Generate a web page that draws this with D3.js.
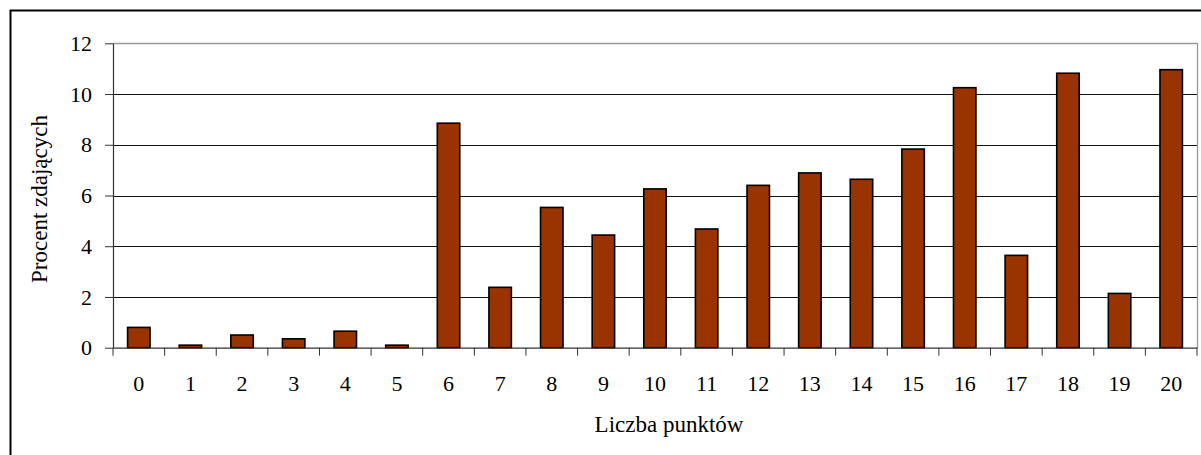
<!DOCTYPE html>
<html><head><meta charset="utf-8">
<script src="https://cdn.jsdelivr.net/npm/d3@7"></script>
<style>body{margin:0;background:#fff}svg{display:block}</style>
</head><body>
<script>
const categories = ["0","1","2","3","4","5","6","7","8","9","10","11","12","13","14","15","16","17","18","19","20"];
const values = [0.8,0.1,0.5,0.35,0.65,0.1,8.85,2.38,5.53,4.44,6.26,4.68,6.4,6.89,6.64,7.83,10.25,3.64,10.82,2.14,10.96];
const yTicks = [0,2,4,6,8,10,12];
const yTitle = "Procent zdających";
const xTitle = "Liczba punktów";

(function(){
const W = 1201, H = 455;
const mLeft = 113, mRight = 1197, mTop = 43.3, mBottom = 347.7;
const svg = d3.select("body").append("svg").attr("width", W).attr("height", H);
const font = "'Liberation Serif','Times New Roman',serif";

// outer border
svg.append("rect").attr("x",10.5).attr("y",10.5).attr("width",1200).attr("height",460)
  .attr("fill","none").attr("stroke","#000").attr("stroke-width",2);

const x = d3.scaleBand().domain(categories).range([mLeft, mRight]).paddingInner(0).paddingOuter(0);
const y = d3.scaleLinear().domain([0,12]).range([mBottom, mTop]);

// gridlines
svg.append("g").selectAll("line").data(yTicks.filter(d=>d>0 && d<12)).join("line")
  .attr("x1",mLeft).attr("x2",mRight).attr("y1",d=>Math.round(y(d))+0.5).attr("y2",d=>Math.round(y(d))+0.5)
  .attr("stroke","#111").attr("stroke-width",1);
// frame top/right
svg.append("path").attr("d",`M${mLeft},${Math.round(mTop)+0.5}H${mRight+0.5}V${mBottom}`)
  .attr("fill","none").attr("stroke","#999").attr("stroke-width",1.3);

// bars
const bw = x.bandwidth()/2.3;
svg.append("g").selectAll("rect").data(values).join("rect")
  .attr("x",(d,i)=>x(categories[i]) + (x.bandwidth()-bw)/2)
  .attr("y",d=>y(d))
  .attr("width",bw)
  .attr("height",d=>y(0)-y(d))
  .attr("fill","#993300").attr("stroke","#000").attr("stroke-width",1.6);

// y axis
const ya = svg.append("g").attr("transform",`translate(${mLeft},0)`)
  .call(d3.axisLeft(y).tickValues(yTicks).tickSize(8).tickPadding(13).tickSizeOuter(0));
ya.select(".domain").attr("stroke","#333").attr("stroke-width",1.2);
ya.selectAll(".tick line").attr("stroke","#333");
ya.selectAll("text").attr("font-family",font).attr("font-size",22).attr("fill","#000");

// x axis
const xa = svg.append("g").attr("transform",`translate(0,${mBottom})`)
  .call(d3.axisBottom(x).tickSize(0).tickPadding(28));
xa.select(".domain").attr("stroke","#333").attr("stroke-width",1.2);
xa.selectAll("text").attr("font-family",font).attr("font-size",22).attr("fill","#000");
// x tick marks at category boundaries
xa.append("g").selectAll("line").data(categories.concat(["end"])).join("line")
  .attr("x1",(d,i)=>mLeft + i*x.step()).attr("x2",(d,i)=>mLeft + i*x.step())
  .attr("y1",0).attr("y2",8).attr("stroke","#333").attr("stroke-width",1);

// titles
svg.append("text").attr("x",669).attr("y",432).attr("text-anchor","middle")
  .attr("font-family",font).attr("font-size",23).text(xTitle);
svg.append("text").attr("transform","translate(47,199) rotate(-90)").attr("text-anchor","middle")
  .attr("font-family",font).attr("font-size",23).text(yTitle);
})();
</script>
</body></html>
